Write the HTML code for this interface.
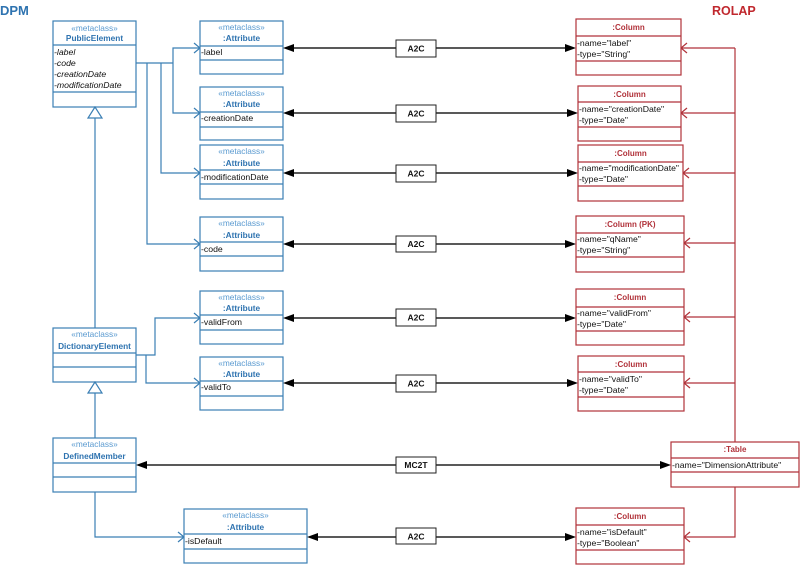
<!DOCTYPE html>
<html><head><meta charset="utf-8"><style>
html,body{margin:0;padding:0;background:#fff;}
svg{display:block;}
text{font-family:"Liberation Sans",Arial,sans-serif;}
.b{fill:#fff;stroke:#3b7fb4;stroke-width:1.2;}
.bl{stroke:#3b7fb4;stroke-width:1.2;fill:none;}
.r{fill:#fff;stroke:#b1323a;stroke-width:1.2;}
.rl{stroke:#b1323a;stroke-width:1.2;fill:none;}
.k{stroke:#222;stroke-width:1.4;fill:none;}
.mc{fill:#5a9ad0;font-size:8.3px;}
.bn{fill:#2e73b0;font-size:8.3px;font-weight:bold;}
.at{fill:#111;font-size:8.7px;}
.ai{fill:#111;font-size:8.7px;font-style:italic;}
.rn{fill:#b1323a;font-size:8px;font-weight:bold;}
.lb{fill:#111;font-size:8.5px;font-weight:bold;}
</style></head><body>
<svg width="800" height="565" viewBox="0 0 800 565" xmlns="http://www.w3.org/2000/svg">
<text x="0" y="15" style="font-size:13px;font-weight:bold;fill:#2e73b0">DPM</text>
<text x="712" y="15" style="font-size:12.5px;font-weight:bold;fill:#c0282e">ROLAP</text>

<!-- Blue class boxes -->
<rect class="b" x="53" y="21" width="83" height="86"/>
<line class="bl" x1="53" y1="45" x2="136" y2="45"/><line class="bl" x1="53" y1="92" x2="136" y2="92"/>
<text class="mc" x="94.5" y="31" text-anchor="middle">«metaclass»</text>
<text class="bn" x="94.5" y="41" text-anchor="middle">PublicElement</text>
<text class="ai" x="54" y="55">-label</text>
<text class="ai" x="54" y="66">-code</text>
<text class="ai" x="54" y="77">-creationDate</text>
<text class="ai" x="54" y="88">-modificationDate</text>

<rect class="b" x="53" y="328" width="83" height="54"/>
<line class="bl" x1="53" y1="353" x2="136" y2="353"/><line class="bl" x1="53" y1="367" x2="136" y2="367"/>
<text class="mc" x="94.5" y="337" text-anchor="middle">«metaclass»</text>
<text class="bn" x="94.5" y="349" text-anchor="middle">DictionaryElement</text>

<rect class="b" x="53" y="438" width="83" height="54"/>
<line class="bl" x1="53" y1="463" x2="136" y2="463"/><line class="bl" x1="53" y1="477" x2="136" y2="477"/>
<text class="mc" x="94.5" y="447" text-anchor="middle">«metaclass»</text>
<text class="bn" x="94.5" y="459" text-anchor="middle">DefinedMember</text>

<!-- generalizations -->
<polygon class="b" points="95,107 88,118 102,118"/>
<line class="bl" x1="95" y1="118" x2="95" y2="328"/>
<polygon class="b" points="95,382 88,393 102,393"/>
<line class="bl" x1="95" y1="393" x2="95" y2="438"/>

<!-- blue connectors -->
<polyline class="bl" points="136,63 173,63"/>
<polyline class="bl" points="200,48 173,48 173,113 200,113"/>
<polyline class="bl" points="161,63 161,173 200,173"/>
<polyline class="bl" points="147,63 147,244 200,244"/>
<polyline class="bl" points="136,355 155,355 155,318 200,318"/>
<polyline class="bl" points="146,355 146,383 200,383"/>
<polyline class="bl" points="95,492 95,537 184,537"/>
<g class="bl">
<polyline points="194,43 200,48 194,53"/>
<polyline points="194,108 200,113 194,118"/>
<polyline points="194,168 200,173 194,178"/>
<polyline points="194,239 200,244 194,249"/>
<polyline points="194,313 200,318 194,323"/>
<polyline points="194,378 200,383 194,388"/>
<polyline points="178,532 184,537 178,542"/>
</g>

<!-- Attribute boxes -->
<g>
<rect class="b" x="200" y="21" width="83" height="53"/>
<line class="bl" x1="200" y1="46" x2="283" y2="46"/><line class="bl" x1="200" y1="60" x2="283" y2="60"/>
<text class="mc" x="241.5" y="30" text-anchor="middle">«metaclass»</text>
<text class="bn" x="241.5" y="41" text-anchor="middle">:Attribute</text>
<text class="at" x="201" y="55">-label</text>

<rect class="b" x="200" y="87" width="83" height="53"/>
<line class="bl" x1="200" y1="112" x2="283" y2="112"/><line class="bl" x1="200" y1="127" x2="283" y2="127"/>
<text class="mc" x="241.5" y="96" text-anchor="middle">«metaclass»</text>
<text class="bn" x="241.5" y="107" text-anchor="middle">:Attribute</text>
<text class="at" x="201" y="121">-creationDate</text>

<rect class="b" x="200" y="145" width="83" height="54"/>
<line class="bl" x1="200" y1="170" x2="283" y2="170"/><line class="bl" x1="200" y1="184" x2="283" y2="184"/>
<text class="mc" x="241.5" y="154" text-anchor="middle">«metaclass»</text>
<text class="bn" x="241.5" y="166" text-anchor="middle">:Attribute</text>
<text class="at" x="201" y="180">-modificationDate</text>

<rect class="b" x="200" y="217" width="83" height="54"/>
<line class="bl" x1="200" y1="242" x2="283" y2="242"/><line class="bl" x1="200" y1="256" x2="283" y2="256"/>
<text class="mc" x="241.5" y="226" text-anchor="middle">«metaclass»</text>
<text class="bn" x="241.5" y="238" text-anchor="middle">:Attribute</text>
<text class="at" x="201" y="252">-code</text>

<rect class="b" x="200" y="291" width="83" height="53"/>
<line class="bl" x1="200" y1="315" x2="283" y2="315"/><line class="bl" x1="200" y1="330" x2="283" y2="330"/>
<text class="mc" x="241.5" y="300" text-anchor="middle">«metaclass»</text>
<text class="bn" x="241.5" y="311" text-anchor="middle">:Attribute</text>
<text class="at" x="201" y="325">-validFrom</text>

<rect class="b" x="200" y="357" width="83" height="53"/>
<line class="bl" x1="200" y1="381" x2="283" y2="381"/><line class="bl" x1="200" y1="396" x2="283" y2="396"/>
<text class="mc" x="241.5" y="366" text-anchor="middle">«metaclass»</text>
<text class="bn" x="241.5" y="377" text-anchor="middle">:Attribute</text>
<text class="at" x="201" y="390">-validTo</text>

<rect class="b" x="184" y="509" width="123" height="54"/>
<line class="bl" x1="184" y1="534" x2="307" y2="534"/><line class="bl" x1="184" y1="549" x2="307" y2="549"/>
<text class="mc" x="245.5" y="518" text-anchor="middle">«metaclass»</text>
<text class="bn" x="245.5" y="530" text-anchor="middle">:Attribute</text>
<text class="at" x="185" y="544">-isDefault</text>
</g>

<!-- black connectors -->
<g>
<line class="k" x1="290" y1="48" x2="569" y2="48"/>
<line class="k" x1="290" y1="113" x2="571" y2="113"/>
<line class="k" x1="290" y1="173" x2="571" y2="173"/>
<line class="k" x1="290" y1="244" x2="569" y2="244"/>
<line class="k" x1="290" y1="318" x2="569" y2="318"/>
<line class="k" x1="290" y1="383" x2="571" y2="383"/>
<line class="k" x1="314" y1="537" x2="569" y2="537"/>
<line class="k" x1="143" y1="465" x2="664" y2="465"/>
</g>
<g fill="#000">
<polygon points="283,48 294,44 294,52"/><polygon points="576,48 565,44 565,52"/>
<polygon points="283,113 294,109 294,117"/><polygon points="578,113 567,109 567,117"/>
<polygon points="283,173 294,169 294,177"/><polygon points="578,173 567,169 567,177"/>
<polygon points="283,244 294,240 294,248"/><polygon points="576,244 565,240 565,248"/>
<polygon points="283,318 294,314 294,322"/><polygon points="576,318 565,314 565,322"/>
<polygon points="283,383 294,379 294,387"/><polygon points="578,383 567,379 567,387"/>
<polygon points="307,537 318,533 318,541"/><polygon points="576,537 565,533 565,541"/>
<polygon points="136,465 147,461 147,469"/><polygon points="671,465 660,461 660,469"/>
</g>
<g>
<rect x="396" y="40" width="40" height="17" fill="#fff" stroke="#222" stroke-width="1"/>
<text class="lb" x="416" y="51.5" text-anchor="middle">A2C</text>
<rect x="396" y="105" width="40" height="17" fill="#fff" stroke="#222" stroke-width="1"/>
<text class="lb" x="416" y="116.5" text-anchor="middle">A2C</text>
<rect x="396" y="165" width="40" height="17" fill="#fff" stroke="#222" stroke-width="1"/>
<text class="lb" x="416" y="176.5" text-anchor="middle">A2C</text>
<rect x="396" y="236" width="40" height="16" fill="#fff" stroke="#222" stroke-width="1"/>
<text class="lb" x="416" y="247" text-anchor="middle">A2C</text>
<rect x="396" y="309" width="40" height="17" fill="#fff" stroke="#222" stroke-width="1"/>
<text class="lb" x="416" y="320.5" text-anchor="middle">A2C</text>
<rect x="396" y="375" width="40" height="17" fill="#fff" stroke="#222" stroke-width="1"/>
<text class="lb" x="416" y="386.5" text-anchor="middle">A2C</text>
<rect x="396" y="457" width="40" height="16" fill="#fff" stroke="#222" stroke-width="1"/>
<text class="lb" x="416" y="468" text-anchor="middle">MC2T</text>
<rect x="396" y="528" width="40" height="16" fill="#fff" stroke="#222" stroke-width="1"/>
<text class="lb" x="416" y="539.5" text-anchor="middle">A2C</text>
</g>

<!-- red connectors -->
<line class="rl" x1="735" y1="48" x2="735" y2="442"/>
<line class="rl" x1="681" y1="48" x2="735" y2="48"/>
<line class="rl" x1="681" y1="113" x2="735" y2="113"/>
<line class="rl" x1="683" y1="173" x2="735" y2="173"/>
<line class="rl" x1="684" y1="243" x2="735" y2="243"/>
<line class="rl" x1="684" y1="317" x2="735" y2="317"/>
<line class="rl" x1="684" y1="383" x2="735" y2="383"/>
<polyline class="rl" points="735,487 735,537 684,537"/>
<g class="rl">
<polyline points="687,43 681,48 687,53"/>
<polyline points="687,108 681,113 687,118"/>
<polyline points="689,168 683,173 689,178"/>
<polyline points="690,238 684,243 690,248"/>
<polyline points="690,312 684,317 690,322"/>
<polyline points="690,378 684,383 690,388"/>
<polyline points="690,532 684,537 690,542"/>
</g>

<!-- Column boxes -->
<rect class="r" x="576" y="19" width="105" height="56"/>
<line class="rl" x1="576" y1="36" x2="681" y2="36"/><line class="rl" x1="576" y1="61" x2="681" y2="61"/>
<text class="rn" x="628.5" y="30" text-anchor="middle">:Column</text>
<text class="at" x="577" y="46">-name="label"</text>
<text class="at" x="577" y="57">-type="String"</text>

<rect class="r" x="578" y="86" width="103" height="55"/>
<line class="rl" x1="578" y1="102" x2="681" y2="102"/><line class="rl" x1="578" y1="127" x2="681" y2="127"/>
<text class="rn" x="629.5" y="97" text-anchor="middle">:Column</text>
<text class="at" x="579" y="112">-name="creationDate"</text>
<text class="at" x="579" y="123">-type="Date"</text>

<rect class="r" x="578" y="145" width="105" height="56"/>
<line class="rl" x1="578" y1="162" x2="683" y2="162"/><line class="rl" x1="578" y1="186" x2="683" y2="186"/>
<text class="rn" x="630.5" y="156" text-anchor="middle">:Column</text>
<text class="at" x="579" y="171" textLength="100" lengthAdjust="spacingAndGlyphs">-name="modificationDate"</text>
<text class="at" x="579" y="182">-type="Date"</text>

<rect class="r" x="576" y="216" width="108" height="56"/>
<line class="rl" x1="576" y1="233" x2="684" y2="233"/><line class="rl" x1="576" y1="257" x2="684" y2="257"/>
<text class="rn" x="630" y="227" text-anchor="middle">:Column (PK)</text>
<text class="at" x="577" y="242">-name="qName"</text>
<text class="at" x="577" y="253">-type="String"</text>

<rect class="r" x="576" y="289" width="108" height="56"/>
<line class="rl" x1="576" y1="307" x2="684" y2="307"/><line class="rl" x1="576" y1="331" x2="684" y2="331"/>
<text class="rn" x="630" y="300" text-anchor="middle">:Column</text>
<text class="at" x="577" y="316">-name="validFrom"</text>
<text class="at" x="577" y="327">-type="Date"</text>

<rect class="r" x="578" y="356" width="106" height="55"/>
<line class="rl" x1="578" y1="372" x2="684" y2="372"/><line class="rl" x1="578" y1="397" x2="684" y2="397"/>
<text class="rn" x="631" y="367" text-anchor="middle">:Column</text>
<text class="at" x="579" y="382">-name="validTo"</text>
<text class="at" x="579" y="393">-type="Date"</text>

<rect class="r" x="671" y="442" width="128" height="45"/>
<line class="rl" x1="671" y1="458" x2="799" y2="458"/><line class="rl" x1="671" y1="472" x2="799" y2="472"/>
<text class="rn" x="735" y="452" text-anchor="middle">:Table</text>
<text class="at" x="672" y="468">-name="DimensionAttribute"</text>

<rect class="r" x="576" y="508" width="108" height="56"/>
<line class="rl" x1="576" y1="525" x2="684" y2="525"/><line class="rl" x1="576" y1="550" x2="684" y2="550"/>
<text class="rn" x="630" y="519" text-anchor="middle">:Column</text>
<text class="at" x="577" y="535">-name="isDefault"</text>
<text class="at" x="577" y="546">-type="Boolean"</text>
</svg>
</body></html>
